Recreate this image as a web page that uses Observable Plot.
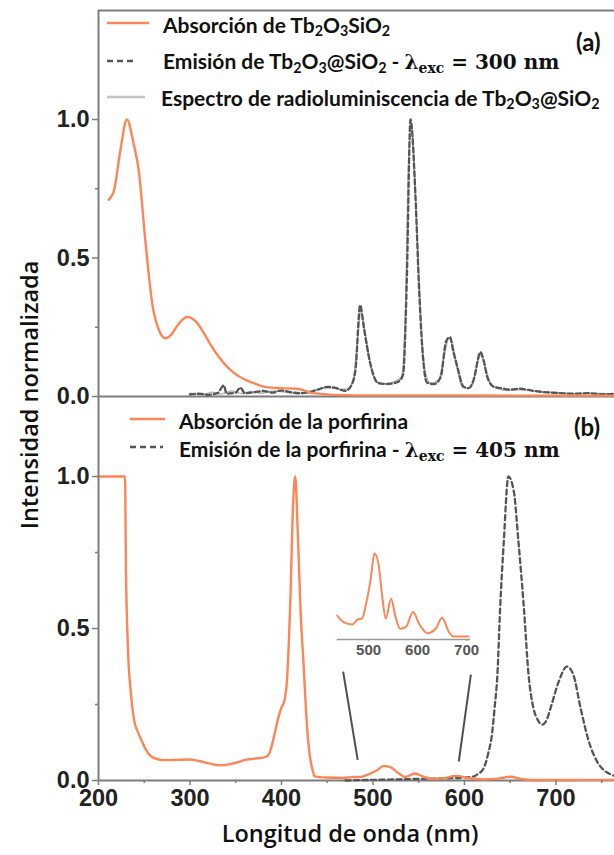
<!DOCTYPE html>
<html><head><meta charset="utf-8">
<script src="https://cdn.jsdelivr.net/npm/d3@7"></script>
<script src="https://cdn.jsdelivr.net/npm/@observablehq/plot@0.6"></script>
<style>
html,body{margin:0;padding:0;background:#fff;}
#chart{position:relative;width:614px;height:855px;overflow:hidden;background:#fff;}
#chart svg.plt{position:absolute;left:0;top:0;background:transparent !important;overflow:visible;}
.lg{position:absolute;font-family:Lato,"Open Sans",sans-serif;font-weight:700;color:#111;white-space:nowrap;line-height:1;transform:translateY(-50%);}
.lg sub{font-size:0.68em;vertical-align:-0.28em;line-height:0;}
.m{font-family:"DejaVu Serif","Liberation Serif",serif;font-weight:700;font-size:20px;}
.m sub{font-size:0.7em;vertical-align:-0.32em;}
.ax{position:absolute;font-family:"Open Sans",sans-serif;font-weight:600;color:#111;white-space:nowrap;font-size:23.5px;line-height:1;}
.sw{position:absolute;overflow:visible;}
</style></head><body><div id="chart"></div>
<script>
// ---------- DATA ----------
// (a) Absorción de Tb2O3SiO2
const absTbX = [211,217,224,231,238.6,244,251,259,266,273,280,286,297,308,315,322,331,341,351,362,373,384,400,417,435,460,500,550,600,650,700,764];
const absTbY = [0.71,0.745,0.89,1.0,0.91,0.816,0.57,0.33,0.24,0.21,0.225,0.255,0.287,0.265,0.23,0.19,0.145,0.106,0.078,0.058,0.044,0.034,0.03,0.028,0.012,0.006,0.004,0.004,0.004,0.003,0.003,0.003];
// (a) Emisión de Tb2O3@SiO2 (λexc = 300 nm)
const emTbX = [300,310,320,330,337,340,350,355,360,370,380,390,400,410,420,430,440,450,460,470,477,481,486,490,497,505,515,525,530,533,537,541,546.5,550,554,559,567,574,580,584,588,592,599,605,610,617.5,621,625,632,640,650,660,676,690,705,720,735,750,764];
const emTbY = [0.008,0.01,0.006,0.012,0.04,0.01,0.014,0.032,0.012,0.015,0.02,0.014,0.022,0.016,0.012,0.015,0.025,0.035,0.03,0.02,0.045,0.1,0.33,0.25,0.12,0.05,0.045,0.05,0.06,0.08,0.42,1.0,0.72,0.42,0.17,0.05,0.045,0.07,0.2,0.215,0.16,0.11,0.035,0.03,0.06,0.16,0.13,0.07,0.035,0.03,0.025,0.028,0.02,0.015,0.012,0.01,0.012,0.008,0.01];
// (a) Espectro de radioluminiscencia de Tb2O3@SiO2
const rlTbX = [300,312,325,333,345,358,366,378,392,405,418,432,445,455,465,474,479,483,487,492,499,508,520,531,535,539,542,548,552,557,563,572,578,583,587,591,597,603,609,614,618,623,629,636,648,662,680,700,720,740,764];
const rlTbY = [0.012,0.006,0.015,0.008,0.02,0.01,0.018,0.012,0.02,0.015,0.01,0.02,0.03,0.032,0.025,0.03,0.07,0.2,0.31,0.22,0.09,0.045,0.05,0.07,0.25,0.85,0.97,0.6,0.3,0.09,0.048,0.06,0.15,0.21,0.19,0.12,0.04,0.03,0.045,0.12,0.15,0.1,0.045,0.03,0.022,0.025,0.018,0.014,0.01,0.012,0.009];
// (b) Absorción de la porfirina
const porAbsX = [200,229,230,232,235.5,239,243,247,252,258,265,273,285,299,310,320,329,336,344,352,359,370,381,386,389,393,396,400,403,406,408,410,412,414,415,418,421,424,428,431,434,436,449,467,477,487,495,504,512,520,528,535,546,555,565,576,591,603,620,637,650,664,673,704,730,764];
const porAbsY = [1,1,0.7,0.45,0.284,0.197,0.16,0.132,0.1,0.078,0.07,0.067,0.068,0.069,0.064,0.057,0.051,0.05,0.054,0.06,0.067,0.072,0.076,0.085,0.11,0.16,0.2,0.24,0.26,0.33,0.45,0.62,0.85,0.98,1.0,0.8,0.55,0.39,0.175,0.08,0.035,0.0134,0.0097,0.0084,0.011,0.0118,0.02,0.033,0.048,0.0426,0.0237,0.0116,0.0228,0.0125,0.006,0.0069,0.0153,0.0088,0.0035,0.006,0.0122,0.0041,0.0017,0.0017,0.002,0.002];
// (b) Emisión de la porfirina (λexc = 405 nm)
const porEmX = [470,500,530,560,590,600,610,615,621,626,630,633,636,639,643,648,654,659,665,670,675.5,680,685,690,694,703,712,719,727,736,745,752,760,764];
const porEmY = [0,0.002,0.004,0.006,0.008,0.01,0.013,0.022,0.04,0.09,0.15,0.24,0.348,0.567,0.786,1.0,0.95,0.786,0.566,0.35,0.237,0.2,0.184,0.2,0.237,0.325,0.375,0.348,0.237,0.128,0.062,0.035,0.02,0.015];
// inset window (nm) and guide lines from inset to the zoomed region (panel b data units)
const insetRange = [436, 708];
const insetTicks = [500, 600, 700];
const guideLines = [
  {x1: 467.4, y1: 0.358, x2: 483.3, y2: 0.068},
  {x1: 607.0, y1: 0.348, x2: 593.8, y2: 0.0625}
];
const xMajor = [200,300,400,500,600,700];
const xMinor = [250,350,450,550,650,750];
const yMajor = [0, 0.5, 1.0];
const yMinor = [0.25, 0.75];

// ---------- BUILD ----------
const toRows = (xs, ys) => xs.map((x, i) => ({x, y: ys[i]}));
const absTb = toRows(absTbX, absTbY);
const emTb = toRows(emTbX, emTbY);
const rlTb = toRows(rlTbX, rlTbY);
const porAbs = toRows(porAbsX, porAbsY);
const porEm = toRows(porEmX, porEmY);

const W = 614, H = 855;
const ORANGE = "#fb8656", DARK = "#555", AXC = "#7d7d7d";
const tickFont = {fontSize: 23.5, fontWeight: "bold", fontFamily: "Liberation Sans, Arial, sans-serif"};
const noText = () => "";
const chart = document.getElementById("chart");

function yAxes() {
  return [
    Plot.axisY({ticks: yMajor, tickFormat: d3.format(".1f"), tickSize: 6, tickPadding: 3, color: "#222", stroke: AXC, strokeWidth: 1.5, label: null, ...tickFont}),
    Plot.axisY({ticks: yMinor, tickFormat: noText, tickSize: 3, stroke: AXC, strokeWidth: 1.5, label: null})
  ];
}

const top0 = 10, topBase = 396, botBase = 780, oneB = 476;
const yTopMax = (topBase - top0) / 277;
const yBotMax = (botBase - topBase) / (botBase - oneB);

const pA = Plot.plot({
  width: W, height: H, marginLeft: 98, marginRight: 0, marginTop: top0, marginBottom: H - topBase,
  x: {domain: [200, 764], axis: null},
  y: {domain: [0, yTopMax]},
  marks: [
    Plot.ruleY([yTopMax], {stroke: AXC, strokeWidth: 2}),
    Plot.ruleY([0], {stroke: AXC, strokeWidth: 2}),
    Plot.line(rlTb, {x: "x", y: "y", stroke: "#b5b5b5", strokeWidth: 1.5, curve: "monotone-x"}),
    Plot.line(emTb, {x: "x", y: "y", stroke: DARK, strokeWidth: 2.3, strokeDasharray: "5,3", curve: "monotone-x"}),
    Plot.line(absTb, {x: "x", y: "y", stroke: ORANGE, strokeWidth: 2.4, curve: "monotone-x"}),
    ...yAxes(),
    Plot.ruleX([200], {stroke: AXC, strokeWidth: 2})
  ]
});
pA.classList.add("plt");
chart.appendChild(pA);

const pB = Plot.plot({
  width: W, height: H, marginLeft: 98, marginRight: 0, marginTop: topBase, marginBottom: H - botBase,
  x: {domain: [200, 764]},
  y: {domain: [0, yBotMax]},
  marks: [
    Plot.ruleY([0], {stroke: AXC, strokeWidth: 2}),
    Plot.link(guideLines, {x1: "x1", y1: "y1", x2: "x2", y2: "y2", stroke: "#505050", strokeWidth: 2}),
    Plot.line(porEm, {x: "x", y: "y", stroke: DARK, strokeWidth: 2.3, strokeDasharray: "5,3.5", curve: "monotone-x"}),
    Plot.line(porAbs, {x: "x", y: "y", stroke: ORANGE, strokeWidth: 2.4, curve: "monotone-x"}),
    ...yAxes(),
    Plot.axisX({ticks: xMajor, tickFormat: d => d, tickSize: 5, tickPadding: 4, color: "#222", stroke: AXC, strokeWidth: 1.5, label: null, ...tickFont}),
    Plot.axisX({ticks: xMinor, tickFormat: noText, tickSize: 3, stroke: AXC, strokeWidth: 1.5, label: null}),
    Plot.ruleX([200], {stroke: AXC, strokeWidth: 2})
  ]
});
pB.classList.add("plt");
chart.appendChild(pB);

// inset (zoom of panel b absorption between 436 and 708 nm)
const insetData = porAbs.filter(d => d.x >= insetRange[0] && d.x <= insetRange[1]);
const pC = Plot.plot({
  width: W, height: H, marginLeft: 336.7, marginRight: W - 470, marginTop: 553, marginBottom: H - 639,
  x: {domain: insetRange},
  y: {domain: [0, 0.048], axis: null},
  marks: [
    Plot.ruleY([0], {stroke: "#999", strokeWidth: 1.5}),
    Plot.line(insetData, {x: "x", y: "y", stroke: ORANGE, strokeWidth: 2, curve: "monotone-x"}),
    Plot.axisX({ticks: insetTicks, tickFormat: d => d, tickSize: 2, tickPadding: 3, color: "#555", stroke: "#999", label: null, fontSize: 15, fontWeight: "bold", fontFamily: "Liberation Sans, Arial, sans-serif"})
  ]
});
pC.classList.add("plt");
chart.appendChild(pC);

// ---------- TEXT / LEGENDS ----------
function addHTML(html) { chart.insertAdjacentHTML("beforeend", html); }
function swatch(x1, x2, y, color, dash, w) {
  addHTML(`<svg class="sw" style="left:0;top:0" width="${W}" height="${H}"><line x1="${x1}" x2="${x2}" y1="${y}" y2="${y}" stroke="${color}" stroke-width="${w}" ${dash ? `stroke-dasharray="${dash}"` : ""}/></svg>`);
}
swatch(107, 149, 23, ORANGE, null, 2.5);
swatch(107, 137, 61, DARK, "6,4", 2.5);
swatch(107, 145, 97, "#c4c4c4", null, 2.5);
swatch(130, 165, 419, ORANGE, null, 2.5);
swatch(130, 163, 447, DARK, "6,4", 2.5);

const LF = "21px";
addHTML(`<div class="lg" style="left:163px;top:24px;font-size:${LF}">Absorción de Tb<sub>2</sub>O<sub>3</sub>SiO<sub>2</sub></div>`);
addHTML(`<div class="lg" style="left:163px;top:61px;font-size:${LF}">Emisión de Tb<sub>2</sub>O<sub>3</sub>@SiO<sub>2</sub> - <span class="m">λ<sub>exc</sub> = 300 nm</span></div>`);
addHTML(`<div class="lg" style="left:161px;top:97px;font-size:${LF}">Espectro de radioluminiscencia de Tb<sub>2</sub>O<sub>3</sub>@SiO<sub>2</sub></div>`);
addHTML(`<div class="lg" style="left:576px;top:42px;font-size:24px">(a)</div>`);
addHTML(`<div class="lg" style="left:179px;top:420px;font-size:${LF}">Absorción de la porfirina</div>`);
addHTML(`<div class="lg" style="left:179px;top:449px;font-size:${LF}">Emisión de la porfirina - <span class="m">λ<sub>exc</sub> = 405 nm</span></div>`);
addHTML(`<div class="lg" style="left:574px;top:427px;font-size:24px">(b)</div>`);

addHTML(`<div class="ax" style="left:350px;top:834px;transform:translate(-50%,-50%)">Longitud de onda (nm)</div>`);
addHTML(`<div class="ax" style="left:30px;top:395px;transform:translate(-50%,-50%) rotate(-90deg)">Intensidad normalizada</div>`);
</script></body></html>
